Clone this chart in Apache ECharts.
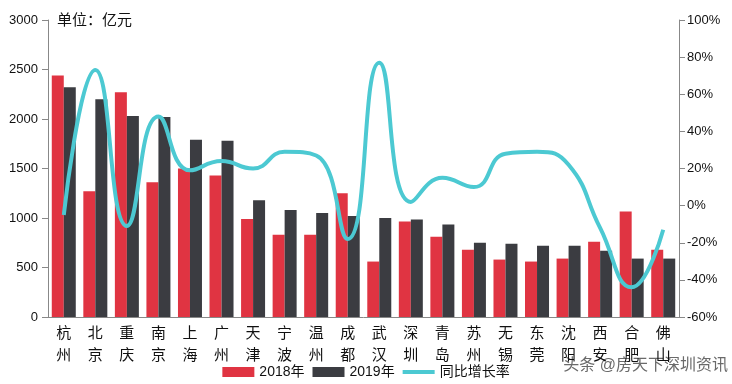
<!DOCTYPE html>
<html><head><meta charset="utf-8">
<script src="https://cdn.jsdelivr.net/npm/echarts@6/dist/echarts.min.js"></script>
<style>html,body{margin:0;padding:0;background:#fff}#c{width:732px;height:384px}</style>
</head><body><div id="c"></div>
<script>
var cities = ['杭州','北京','重庆','南京','上海','广州','天津','宁波','温州','成都','武汉','深圳','青岛','苏州','无锡','东莞','沈阳','西安','合肥','佛山'];
var sales2018 = [2440,1270,2270,1360,1500,1430,990,830,830,1250,560,965,810,680,580,560,590,760,1065,680];
var sales2019 = [2320,2200,2030,2020,1790,1780,1180,1080,1050,1020,1000,985,935,750,740,720,720,670,590,590];
var growth = [-5,73,-11,48,19,24,20,29,27,-18,77,2,15,10,28,29,22,-12,-44,-13];
var leftTicks = [0,500,1000,1500,2000,2500,3000];
var rightTicks = [-60,-40,-20,0,20,40,60,80,100];

var chart = echarts.init(document.getElementById('c'));
var font = '"Liberation Sans", "Noto Sans CJK SC", sans-serif';
chart.setOption({
  animation:false,
  textStyle:{fontFamily:font},
  title:{text:'单位：亿元', left:52, top:8, textStyle:{fontSize:15, fontWeight:'normal', color:'#111', fontFamily:font}},
  grid:{left:48, right:53, top:20, bottom:67},
  legend:{bottom:0, left:'center', itemWidth:32, itemHeight:10, itemGap:8,
    textStyle:{fontSize:14, color:'#111', fontFamily:font},
    data:[{name:'2018年', icon:'rect'},{name:'2019年', icon:'rect'},
          {name:'同比增长率', icon:'path://M0,3 L32,3 L32,7 L0,7 Z'}]},
  xAxis:{type:'category', data:cities,
    axisLine:{lineStyle:{color:'#888'}},
    axisTick:{lineStyle:{color:'#888'}, length:6},
    axisLabel:{color:'#111', fontSize:15, lineHeight:22, margin:6, interval:0,
      formatter:function(v){return v.split('').join('\n');}}},
  yAxis:[
    {type:'value', min:0, max:3000, interval:500, splitLine:{show:false},
     axisLine:{show:true, lineStyle:{color:'#888'}}, axisTick:{show:true, length:6, lineStyle:{color:'#888'}},
     axisLabel:{color:'#111', fontSize:13, margin:10, formatter:function(v){return String(v);}}},
    {type:'value', min:-60, max:100, interval:20, splitLine:{show:false}, position:'right',
     axisLine:{show:true, lineStyle:{color:'#888'}}, axisTick:{show:true, length:6, lineStyle:{color:'#888'}},
     axisLabel:{color:'#111', fontSize:13, margin:8, formatter:'{value}%'}}
  ],
  series:[
    {name:'2018年', type:'bar', data:sales2018, barWidth:12, barGap:'0%', itemStyle:{color:'#e03442'}},
    {name:'2019年', type:'bar', data:sales2019, barWidth:12, itemStyle:{color:'#3b3c41'}},
    {name:'同比增长率', type:'line', yAxisIndex:1, data:growth, smooth:0.5, showSymbol:false, symbol:'none',
     lineStyle:{color:'#4cc9d2', width:4}, itemStyle:{color:'#4cc9d2'}}
  ],
  graphic:[{type:'text', right:4, bottom:10, style:{text:'头条 @房天下深圳资讯', fontSize:16, fill:'#6a6a6a', fontFamily:font}}]
});
</script></body></html>
